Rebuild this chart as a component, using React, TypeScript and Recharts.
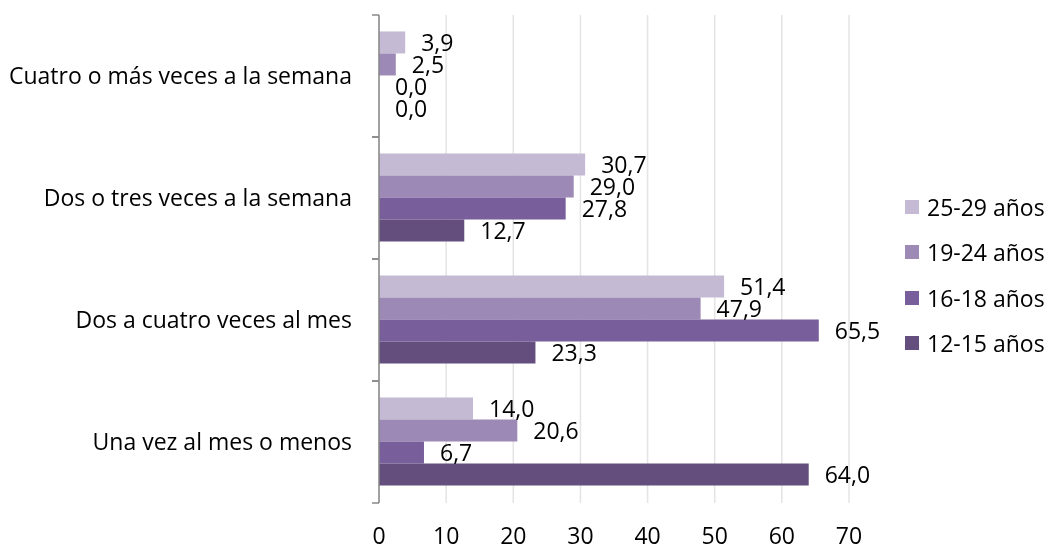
import React from "react";
import { BarChart, Bar, XAxis, YAxis, CartesianGrid, LabelList, Legend } from "recharts";

const categories = [
  "Cuatro o más veces a la semana",
  "Dos o tres veces a la semana",
  "Dos a cuatro veces al mes",
  "Una vez al mes o menos",
];
const s25_29 = [3.9, 30.7, 51.4, 14.0];
const s19_24 = [2.5, 29.0, 47.9, 20.6];
const s16_18 = [0.0, 27.8, 65.5, 6.7];
const s12_15 = [0.0, 12.7, 23.3, 64.0];
const seriesNames = ["25-29 años", "19-24 años", "16-18 años", "12-15 años"];
const seriesKeys = ["a", "b", "c", "d"];
const colors = ["#c4bad4", "#9d89b5", "#785f9b", "#634e7e"];
const xTicks = [0, 10, 20, 30, 40, 50, 60, 70];

const data = categories.map((c, i) => ({
  cat: c,
  a: s25_29[i],
  b: s19_24[i],
  c: s16_18[i],
  d: s12_15[i],
}));

const FONT = "'Open Sans', 'Noto Sans', sans-serif";
const FS = 23;
const fmt = (v: any) => Number(v).toFixed(1).replace(".", ",");

const YTick = (props: any) => {
  const { x, y, payload } = props;
  const off = payload && payload.offset ? payload.offset : 61;
  const ax = x + 27;
  return (
    <g>
      <line x1={ax - 7} x2={ax} y1={y - off} y2={y - off} stroke="#898989" strokeWidth={1.5} />
      <line x1={ax - 7} x2={ax} y1={y + off} y2={y + off} stroke="#898989" strokeWidth={1.5} />
      <text x={x} y={y} dy="0.35em" textAnchor="end" fill="#000" fontSize={FS} fontFamily={FONT}>
        {payload.value}
      </text>
    </g>
  );
};

const LegendContent = () => (
  <div style={{ fontFamily: FONT, fontSize: FS, color: "#000" }}>
    {seriesNames.map((n, i) => (
      <div key={n} style={{ display: "flex", alignItems: "center", height: 45.5, whiteSpace: "nowrap" }}>
        <span style={{ display: "inline-block", width: 14, height: 14, background: colors[i], marginRight: 8 }} />
        <span>{n}</span>
      </div>
    ))}
  </div>
);

export default function App() {
  return (
    <div style={{ position: "fixed", left: 0, top: 0, width: 1049, height: 547 }}>
      <BarChart
        width={1049}
        height={547}
        data={data}
        layout="vertical"
        margin={{ top: 15, right: 200, bottom: 0, left: 0 }}
        barCategoryGap="13.5%"
        barGap={0}
      >
        <CartesianGrid horizontal={false} stroke="#e4e4e4" strokeWidth={1.5} />
        <XAxis
          type="number"
          domain={[0, 70]}
          ticks={xTicks}
          axisLine={false}
          tickLine={false}
          height={44}
          tickMargin={19}
          tick={{ fill: "#000", fontSize: FS, fontFamily: FONT }}
        />
        <YAxis
          type="category"
          dataKey="cat"
          width={379}
          axisLine={{ stroke: "#898989", strokeWidth: 1.5 }}
          tickLine={false}
          tickSize={7}
          tickMargin={20}
          tick={<YTick />}
          interval={0}
        />
        <Legend
          layout="vertical"
          verticalAlign="middle"
          align="center"
          content={<LegendContent />}
          wrapperStyle={{ left: 905, top: 184, width: 144 }}
        />
        {seriesKeys.map((k, i) => (
          <Bar
            key={k}
            dataKey={k}
            name={seriesNames[i]}
            fill={colors[i]}
            minPointSize={0.01}
            isAnimationActive={false}
          >
            <LabelList
              dataKey={k}
              position="right"
              offset={16}
              formatter={fmt}
              fill="#000"
              fontSize={FS}
              fontFamily={FONT}
            />
          </Bar>
        ))}
      </BarChart>
    </div>
  );
}
